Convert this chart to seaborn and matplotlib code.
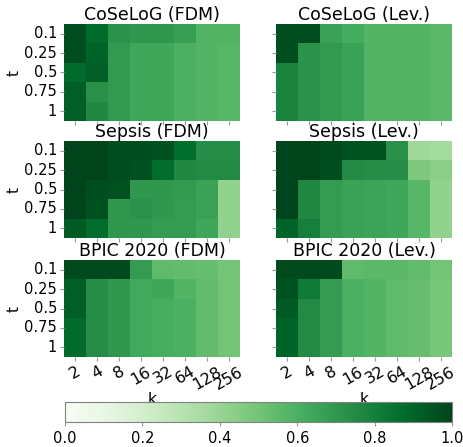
import matplotlib
matplotlib.use("Agg")
import matplotlib.pyplot as plt
import seaborn as sns
import numpy as np

# axis values
k_values = [2, 4, 8, 16, 32, 64, 128, 256]
t_values = ["0.1", "0.25", "0.5", "0.75", "1"]

# scores (rows = t, cols = k)
coselog_fdm = [
    [0.97, 0.88, 0.72, 0.70, 0.70, 0.67, 0.58, 0.58],
    [0.97, 0.90, 0.69, 0.64, 0.64, 0.60, 0.58, 0.57],
    [0.88, 0.92, 0.69, 0.64, 0.64, 0.60, 0.58, 0.57],
    [0.92, 0.73, 0.69, 0.64, 0.64, 0.60, 0.58, 0.57],
    [0.92, 0.76, 0.69, 0.64, 0.64, 0.60, 0.58, 0.57],
]
coselog_lev = [
    [0.97, 0.97, 0.66, 0.62, 0.58, 0.58, 0.58, 0.56],
    [0.97, 0.72, 0.69, 0.66, 0.58, 0.58, 0.58, 0.56],
    [0.78, 0.72, 0.69, 0.66, 0.58, 0.58, 0.58, 0.56],
    [0.78, 0.72, 0.69, 0.66, 0.58, 0.58, 0.58, 0.56],
    [0.78, 0.72, 0.69, 0.66, 0.58, 0.58, 0.58, 0.56],
]
sepsis_fdm = [
    [1.00, 1.00, 0.97, 0.97, 0.95, 0.87, 0.74, 0.74],
    [1.00, 1.00, 0.97, 0.96, 0.87, 0.76, 0.75, 0.75],
    [1.00, 0.97, 0.96, 0.70, 0.70, 0.69, 0.66, 0.42],
    [1.00, 0.96, 0.70, 0.72, 0.70, 0.68, 0.66, 0.42],
    [0.93, 0.87, 0.70, 0.70, 0.68, 0.68, 0.64, 0.42],
]
sepsis_lev = [
    [1.00, 1.00, 0.98, 0.95, 0.95, 0.73, 0.38, 0.37],
    [1.00, 1.00, 0.97, 0.75, 0.74, 0.74, 0.47, 0.44],
    [1.00, 0.76, 0.68, 0.66, 0.65, 0.64, 0.57, 0.42],
    [1.00, 0.76, 0.68, 0.66, 0.65, 0.64, 0.57, 0.42],
    [0.90, 0.80, 0.68, 0.66, 0.65, 0.64, 0.57, 0.42],
]
bpic_fdm = [
    [0.98, 0.98, 0.98, 0.68, 0.55, 0.54, 0.53, 0.50],
    [0.92, 0.74, 0.70, 0.63, 0.64, 0.58, 0.54, 0.50],
    [0.92, 0.74, 0.70, 0.63, 0.61, 0.60, 0.54, 0.50],
    [0.88, 0.74, 0.70, 0.63, 0.61, 0.60, 0.54, 0.50],
    [0.88, 0.74, 0.70, 0.63, 0.61, 0.60, 0.54, 0.50],
]
bpic_lev = [
    [0.98, 0.98, 0.98, 0.55, 0.56, 0.56, 0.54, 0.50],
    [0.95, 0.82, 0.68, 0.60, 0.58, 0.55, 0.53, 0.49],
    [0.93, 0.75, 0.68, 0.60, 0.58, 0.55, 0.53, 0.49],
    [0.90, 0.75, 0.68, 0.60, 0.58, 0.55, 0.53, 0.49],
    [0.90, 0.75, 0.68, 0.60, 0.58, 0.55, 0.53, 0.49],
]

titles = ["CoSeLoG (FDM)", "CoSeLoG (Lev.)", "Sepsis (FDM)", "Sepsis (Lev.)",
          "BPIC 2020 (FDM)", "BPIC 2020 (Lev.)"]
grids = [coselog_fdm, coselog_lev, sepsis_fdm, sepsis_lev, bpic_fdm, bpic_lev]

W, H = 464, 447
fig = plt.figure(figsize=(W / 100, H / 100), dpi=100)

col_x = [64, 276]
row_y = [24, 141, 260]
ax_w, ax_h = 176, 97

for i, (grid, title) in enumerate(zip(grids, titles)):
    r, c = divmod(i, 2)
    x0, y0 = col_x[c], row_y[r]
    ax = fig.add_axes([x0 / W, 1 - (y0 + ax_h) / H, ax_w / W, ax_h / H])
    hm = sns.heatmap(np.array(grid), ax=ax, cmap="Greens", vmin=0, vmax=1,
                     cbar=False, xticklabels=k_values, yticklabels=t_values)
    ax.set_title(title, fontsize=12.5, pad=2)
    ax.tick_params(axis="both", length=3, color="0.6", labelsize=10.5, pad=2)
    ax.set_yticklabels(t_values if c == 0 else [], rotation=0)
    if r == 2:
        ax.set_xticklabels(k_values, rotation=30, fontsize=11.5)
        ax.set_xlabel("k", fontsize=11, labelpad=0)
    else:
        ax.set_xticklabels([])
    if c == 0:
        ax.set_ylabel("t", fontsize=11, labelpad=2)

# shared colorbar at the bottom
cax = fig.add_axes([65 / W, 1 - 422 / H, 387 / W, 20 / H])
cb = fig.colorbar(hm.collections[0], cax=cax, orientation="horizontal")
cb.set_ticks([0.0, 0.2, 0.4, 0.6, 0.8, 1.0])
cb.ax.tick_params(labelsize=10.5, length=3, color="0.6")
cb.outline.set_edgecolor("0.5")

fig.savefig("out.png", dpi=100)
